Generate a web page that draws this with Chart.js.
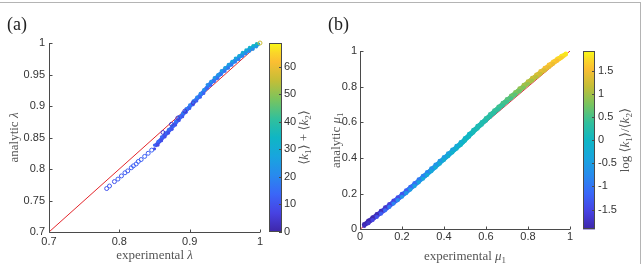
<!DOCTYPE html>
<html><head><meta charset="utf-8">
<script src="https://cdn.jsdelivr.net/npm/chart.js@4/dist/chart.umd.min.js"></script>
<style>
html,body{margin:0;padding:0;background:#fff;}
#wrap{position:relative;width:644px;height:264px;overflow:hidden;background:#fff;}
canvas{position:absolute;top:0;}
#frame{position:absolute;left:0;top:2px;width:641px;height:262px;border-top:1px solid #b4b4b4;border-right:1px solid #b4b4b4;box-sizing:border-box;pointer-events:none;}
</style></head><body>
<div id="wrap">
<canvas id="ca" width="322" height="264" style="left:0"></canvas>
<canvas id="cbb" width="322" height="264" style="left:322px"></canvas>
<div id="frame"></div>
</div>
<script>
// ---------- Panel (a) data ----------
const lamTicksX = [0.7, 0.8, 0.9, 1];
const lamTicksY = [0.7, 0.75, 0.8, 0.85, 0.9, 0.95, 1];
const kSumTicks = [0, 10, 20, 30, 40, 50, 60];
const kSumRange = [0, 68.6];
const lamRefLine = [0.7, 1];

const lamExpSparse = [0.782,0.786,0.793,0.798,0.803,0.808,0.812,0.817,0.820,0.824,0.827,0.831,0.836,0.841,0.846];
const lamAnaSparse = [0.769,0.773,0.780,0.784,0.789,0.794,0.797,0.802,0.805,0.808,0.812,0.815,0.820,0.825,0.830];
const kSumSparse   = [10,11,10,12,11,12,11,12,13,12,13,12,13,12,13];

const lamExpBand      = [0.850,0.855,0.860,0.865,0.870,0.875,0.880,0.885,0.890,0.895,0.900,0.905,0.910,0.915,0.920,0.925,0.930,0.935,0.940,0.945,0.950,0.955,0.960,0.965,0.970,0.975,0.980,0.985,0.990,0.995];
const lamAnaBandUpper = [0.838,0.844,0.851,0.857,0.863,0.869,0.876,0.883,0.889,0.896,0.902,0.908,0.914,0.920,0.926,0.934,0.939,0.945,0.950,0.956,0.961,0.966,0.971,0.976,0.980,0.985,0.989,0.993,0.996,0.999];
const lamAnaBandLower = [0.832,0.838,0.845,0.851,0.857,0.863,0.870,0.877,0.883,0.890,0.896,0.902,0.908,0.914,0.920,0.928,0.933,0.939,0.944,0.950,0.955,0.960,0.965,0.970,0.974,0.979,0.983,0.987,0.990,0.994];
const kSumBandUpper   = [13,14,14,15,15,16,16,17,18,18,19,20,20,21,22,22,23,24,24,25,26,26,27,28,29,30,31,32,34,36];
const kSumBandLower   = [8,8,9,9,9,10,10,10,11,11,12,12,12,13,13,14,14,15,15,16,16,17,17,18,18,19,20,21,22,24];
const lamExpBandMid   = [0.8525,0.8575,0.8625,0.8675,0.8725,0.8775,0.8825,0.8875,0.8925,0.8975,0.9025,0.9075,0.9125,0.9175,0.9225,0.9275,0.9325,0.9375,0.9425,0.9475,0.9525,0.9575,0.9625,0.9675,0.9725,0.9775,0.9825,0.9875,0.9925,0.9975];
const lamAnaBandMid   = [0.838,0.8445,0.851,0.857,0.863,0.8695,0.8765,0.883,0.8895,0.896,0.902,0.908,0.914,0.920,0.9265,0.9335,0.939,0.9445,0.950,0.9555,0.9605,0.9655,0.9705,0.975,0.9795,0.984,0.988,0.9915,0.995,0.998];
const kSumBandMid     = [10,11,11,12,12,13,13,14,14,15,15,16,16,17,17,18,18,19,20,20,21,21,22,23,24,24,25,26,28,30];

const lamExpDark = [0.862,0.874,0.883,0.893,0.905];
const lamAnaDark = [0.858,0.871,0.881,0.892,0.905];
const kSumDark   = [5,4,5,4,5];

const lamExpEnd = [1.0];
const lamAnaEnd = [1.0];
const kSumEnd   = [56];

// ---------- Panel (b) data ----------
const muTicksX = [0, 0.2, 0.4, 0.6, 0.8, 1];
const muTicksY = [0, 0.2, 0.4, 0.6, 0.8, 1];
const logRatioTicks = [-1.5, -1, -0.5, 0, 0.5, 1, 1.5];
const logRatioRange = [-1.93, 1.93];
const muRefLine = [0, 1];

const muExp = [0.02,0.04,0.06,0.08,0.10,0.12,0.14,0.16,0.18,0.20,0.22,0.24,0.26,0.28,0.30,0.32,0.34,0.36,0.38,0.40,0.42,0.44,0.46,0.48,0.50,0.52,0.54,0.56,0.58,0.60,0.62,0.64,0.66,0.68,0.70,0.72,0.74,0.76,0.78,0.80,0.82,0.84,0.86,0.88,0.90,0.92,0.94,0.96,0.98];
const muAnaUpper = [0.028,0.048,0.067,0.085,0.103,0.122,0.141,0.160,0.179,0.198,0.218,0.238,0.258,0.279,0.299,0.320,0.341,0.362,0.383,0.404,0.425,0.446,0.467,0.488,0.511,0.534,0.557,0.579,0.601,0.623,0.645,0.666,0.687,0.708,0.729,0.749,0.769,0.789,0.809,0.829,0.848,0.867,0.886,0.905,0.923,0.940,0.956,0.971,0.985];
const muAnaLower = [0.019,0.035,0.052,0.070,0.088,0.107,0.126,0.145,0.164,0.183,0.203,0.223,0.243,0.264,0.284,0.305,0.326,0.347,0.368,0.389,0.410,0.431,0.452,0.473,0.497,0.520,0.543,0.565,0.587,0.609,0.631,0.652,0.673,0.694,0.715,0.735,0.755,0.775,0.795,0.815,0.834,0.853,0.872,0.891,0.909,0.928,0.946,0.963,0.980];
const logRatioUpper = [-1.9,-1.9,-1.9,-1.85,-1.8,-1.7,-1.6,-1.55,-1.45,-1.35,-1.25,-1.15,-1.05,-0.95,-0.85,-0.8,-0.7,-0.65,-0.6,-0.5,-0.45,-0.4,-0.3,-0.2,-0.05,0,0.1,0.15,0.2,0.3,0.35,0.4,0.45,0.5,0.6,0.7,0.8,0.9,1.0,1.1,1.2,1.3,1.4,1.5,1.6,1.65,1.75,1.85,1.9];
const logRatioLower = [-1.8,-1.7,-1.55,-1.4,-1.25,-1.1,-0.95,-0.85,-0.75,-0.65,-0.6,-0.5,-0.45,-0.4,-0.35,-0.3,-0.3,-0.25,-0.2,-0.2,-0.15,-0.1,-0.1,0,0.05,0.05,0.1,0.15,0.2,0.2,0.25,0.3,0.35,0.4,0.45,0.5,0.6,0.7,0.8,0.9,1.0,1.1,1.2,1.3,1.4,1.45,1.55,1.65,1.8];
const muExpMid = [0.03,0.05,0.07,0.09,0.11,0.13,0.15,0.17,0.19,0.21,0.23,0.25,0.27,0.29,0.31,0.33,0.35,0.37,0.39,0.41,0.43,0.45,0.47,0.49,0.51,0.53,0.55,0.57,0.59,0.61,0.63,0.65,0.67,0.69,0.71,0.73,0.75,0.77,0.79,0.81,0.83,0.85,0.87,0.89,0.91,0.93,0.95,0.97];
const muAnaMid = [0.033,0.051,0.069,0.087,0.105,0.124,0.143,0.162,0.181,0.201,0.221,0.241,0.261,0.282,0.302,0.323,0.344,0.365,0.386,0.407,0.428,0.449,0.470,0.491,0.5155,0.5385,0.561,0.583,0.605,0.627,0.6485,0.6695,0.6905,0.7115,0.732,0.752,0.772,0.792,0.812,0.8315,0.8505,0.8695,0.8885,0.907,0.925,0.9425,0.959,0.975];
const logRatioMid = [-1.82,-1.75,-1.65,-1.55,-1.45,-1.35,-1.25,-1.15,-1.05,-0.95,-0.85,-0.78,-0.72,-0.65,-0.58,-0.52,-0.48,-0.42,-0.38,-0.32,-0.28,-0.22,-0.15,-0.05,0.02,0.08,0.12,0.18,0.22,0.28,0.32,0.38,0.42,0.48,0.55,0.65,0.75,0.85,0.95,1.05,1.15,1.25,1.35,1.45,1.52,1.6,1.7,1.8];

// ---------- colormap (parula-like) ----------
const parulaStops = [
  [0.00, 62, 38,168],[0.10, 71, 66,226],[0.20, 58,102,248],[0.30, 40,138,238],
  [0.40, 24,165,222],[0.50, 15,182,196],[0.60, 50,192,155],[0.70,120,196, 95],
  [0.80,195,190, 55],[0.90,251,190, 50],[0.95,250,215, 40],[1.00,249,250, 20]
];
function parula(t){
  t = Math.max(0, Math.min(1, t));
  for (let i = 1; i < parulaStops.length; i++){
    const a = parulaStops[i-1], b = parulaStops[i];
    if (t <= b[0]){
      const f = (t - a[0]) / (b[0] - a[0]);
      const c = [1,2,3].map(k => Math.round(a[k] + (b[k]-a[k])*f));
      return `rgb(${c[0]},${c[1]},${c[2]})`;
    }
  }
  return 'rgb(249,250,20)';
}
const colorsFor = (vals, range) => vals.map(v => parula((v - range[0]) / (range[1] - range[0])));
const pts = (xs, ys) => xs.map((x, i) => ({x, y: ys[i]}));

// ---------- text helpers ----------
const SERIF = '"Liberation Serif","DejaVu Serif",serif';
const SANS = '"Liberation Sans", Arial, sans-serif';
function drawRich(ctx, parts, x, y, size, rot, color){
  const fonts = parts.map(p => p[1]==='i' ? `italic ${size}px ${SERIF}` : p[1]==='s' ? `${Math.round(size*0.72)}px ${SERIF}` : `${size}px ${SERIF}`);
  let total = 0;
  const ws = parts.map((p, i) => { ctx.font = fonts[i]; const w = ctx.measureText(p[0]).width; total += w; return w; });
  ctx.save();
  ctx.translate(x, y); ctx.rotate(rot);
  ctx.fillStyle = color; ctx.textBaseline = 'middle'; ctx.textAlign = 'left';
  let cx = -total/2;
  parts.forEach((p, i) => { ctx.font = fonts[i]; ctx.fillText(p[0], cx, p[1]==='s' ? size*0.28 : 0); cx += ws[i]; });
  ctx.restore();
}

const AXIS_COLOR = '#4a4a4a';
const TEXT_COLOR = '#333';
const TITLE_COLOR = '#555';

const panelDeco = {
  id: 'panelDeco',
  afterDraw(chart, args, o){
    const ctx = chart.ctx, a = chart.chartArea;
    const xs = chart.scales.x, ys = chart.scales.y, cb = chart.scales.cb;
    ctx.save();
    // colorbar
    const x0 = Math.round(a.right + o.cbGap), w = o.cbWidth;
    const g = ctx.createLinearGradient(0, cb.bottom, 0, cb.top);
    parulaStops.forEach(s => g.addColorStop(s[0], `rgb(${s[1]},${s[2]},${s[3]})`));
    ctx.fillStyle = g;
    ctx.fillRect(x0, cb.top, w, cb.bottom - cb.top);
    ctx.strokeStyle = AXIS_COLOR; ctx.lineWidth = 1;
    ctx.strokeRect(x0 + 0.5, Math.round(cb.top) + 0.5, w - 1, Math.round(cb.bottom - cb.top) - 1);
    ctx.beginPath();
    cb.ticks.forEach(t => { const py = Math.round(cb.getPixelForValue(t.value)) + 0.5; ctx.moveTo(x0 + w, py); ctx.lineTo(x0 + w - 3, py); });
    ctx.stroke();
    // axes lines (left + bottom)
    ctx.beginPath();
    const L = Math.round(a.left) + 0.5, B = Math.round(a.bottom) + 0.5;
    ctx.moveTo(L, a.top); ctx.lineTo(L, B); ctx.lineTo(a.right, B);
    ctx.stroke();
    // inward tick marks
    ctx.beginPath();
    xs.ticks.forEach(t => { const px = Math.round(xs.getPixelForValue(t.value)) + 0.5; ctx.moveTo(px, B); ctx.lineTo(px, B - 3); });
    ys.ticks.forEach(t => { const py = Math.round(ys.getPixelForValue(t.value)) + 0.5; ctx.moveTo(L, py); ctx.lineTo(L + 3, py); });
    ctx.stroke();
    // texts
    ctx.fillStyle = '#222'; ctx.font = `18px ${SERIF}`; ctx.textBaseline = 'middle'; ctx.textAlign = 'left';
    ctx.fillText(o.label, o.labelX, o.labelY);
    const cxm = (a.left + a.right)/2, cym = (a.top + a.bottom)/2;
    drawRich(ctx, o.xTitle, cxm, o.xTitleY, 13, 0, TITLE_COLOR);
    drawRich(ctx, o.yTitle, o.yTitleX, cym, 13, -Math.PI/2, TITLE_COLOR);
    drawRich(ctx, o.cbTitle, o.cbTitleX, cym, 13, -Math.PI/2, TITLE_COLOR);
    ctx.restore();
  }
};

function fixedTicks(arr){ return s => { s.ticks = arr.map(v => ({value: v})); }; }
function tickOpts(pad){ return {padding: pad, autoSkip: false, maxRotation: 0, color: TEXT_COLOR, font: {family: SANS, size: 11}, callback: v => String(v)}; }
const noGrid = {display: false, drawTicks: false};
function filled(xs, ys, vals, range, r){ const c = colorsFor(vals, range); return { data: pts(xs, ys), backgroundColor: c, borderColor: c, pointRadius: r, borderWidth: 0, clip: false }; }
function ring(xs, ys, vals, range, r){ return { data: pts(xs, ys), backgroundColor: 'rgba(0,0,0,0)', borderColor: colorsFor(vals, range), pointRadius: r, borderWidth: 1, clip: false }; }
// dense core of the marker cloud: a thick stroke through the centre points, coloured point by point
function core(xs, ys, vals, range, w){ const c = colorsFor(vals, range); return { type: 'line', data: pts(xs, ys), showLine: true, borderWidth: w, pointRadius: 0, borderCapStyle: 'round', borderJoinStyle: 'round', tension: 0, fill: false, clip: false, borderColor: c[0], segment: { borderColor: ctx => c[ctx.p0DataIndex] } }; }
function refLine(vals, color){ return { type: 'line', data: pts(vals, vals), borderColor: color, borderWidth: 1, pointRadius: 0, fill: false }; }

// (Chart.js draws dataset 0 on top; the reference line is listed last so it sits under the markers)
// ---------- Panel (a) ----------
new Chart(document.getElementById('ca'), {
  type: 'scatter',
  data: { datasets: [
    ring(lamExpEnd, lamAnaEnd, kSumEnd, kSumRange, 2),
    ring(lamExpDark, lamAnaDark, kSumDark, kSumRange, 1.9),
    ring(lamExpSparse, lamAnaSparse, kSumSparse, kSumRange, 2.0),
    filled(lamExpBand, lamAnaBandUpper, kSumBandUpper, kSumRange, 1.6),
    filled(lamExpBand, lamAnaBandLower, kSumBandLower, kSumRange, 1.6),
    core(lamExpBandMid, lamAnaBandMid, kSumBandMid, kSumRange, 4),
    refLine(lamRefLine, '#e3262b')
  ]},
  options: {
    responsive: false, animation: false, devicePixelRatio: 1, events: [],
    layout: {padding: {top: 43, left: 0, right: 0, bottom: 0}},
    plugins: { legend: {display: false}, tooltip: {enabled: false},
      panelDeco: { label: '(a)', labelX: 7, labelY: 25, cbGap: 9, cbWidth: 13,
        xTitle: [['experimental ', 'n'], ['λ', 'i']], xTitleY: 256,
        yTitle: [['analytic ', 'n'], ['λ', 'i']], yTitleX: 15,
        cbTitle: [['⟨', 'n'], ['k', 'i'], ['1', 's'], ['⟩ + ⟨', 'n'], ['k', 'i'], ['2', 's'], ['⟩', 'n']], cbTitleX: 305 } },
    scales: {
      x: { type: 'linear', min: lamTicksX[0], max: lamTicksX[lamTicksX.length-1], afterBuildTicks: fixedTicks(lamTicksX), ticks: tickOpts(3), grid: noGrid, border: {display: false}, afterFit: s => { s.height = 32; } },
      y: { type: 'linear', min: lamTicksY[0], max: lamTicksY[lamTicksY.length-1], afterBuildTicks: fixedTicks(lamTicksY), ticks: tickOpts(4), grid: noGrid, border: {display: false}, afterFit: s => { s.width = 49; } },
      cb: { type: 'linear', axis: 'y', position: 'right', min: kSumRange[0], max: kSumRange[1], afterBuildTicks: fixedTicks(kSumTicks), ticks: tickOpts(24), grid: noGrid, border: {display: false}, afterFit: s => { s.width = 62; } }
    }
  },
  plugins: [panelDeco]
});

// ---------- Panel (b) ----------
new Chart(document.getElementById('cbb'), {
  type: 'scatter',
  data: { datasets: [
    filled(muExp, muAnaLower, logRatioLower, logRatioRange, 2.1),
    filled(muExp, muAnaUpper, logRatioUpper, logRatioRange, 2.3),
    core(muExpMid, muAnaMid, logRatioMid, logRatioRange, 5),
    refLine(muRefLine, '#e82840')
  ]},
  options: {
    responsive: false, animation: false, devicePixelRatio: 1, events: [],
    layout: {padding: {top: 51, left: 0, right: 0, bottom: 0}},
    plugins: { legend: {display: false}, tooltip: {enabled: false},
      panelDeco: { label: '(b)', labelX: 6, labelY: 25, cbGap: 13, cbWidth: 12,
        xTitle: [['experimental ', 'n'], ['μ', 'i'], ['1', 's']], xTitleY: 257,
        yTitle: [['analytic ', 'n'], ['μ', 'i'], ['1', 's']], yTitleX: 15,
        cbTitle: [['log ⟨', 'n'], ['k', 'i'], ['1', 's'], ['⟩/⟨', 'n'], ['k', 'i'], ['2', 's'], ['⟩', 'n']], cbTitleX: 304 } },
    scales: {
      x: { type: 'linear', min: muTicksX[0], max: muTicksX[muTicksX.length-1], afterBuildTicks: fixedTicks(muTicksX), ticks: tickOpts(1), grid: noGrid, border: {display: false}, afterFit: s => { s.height = 30; } },
      y: { type: 'linear', min: muTicksY[0], max: muTicksY[muTicksY.length-1], afterBuildTicks: fixedTicks(muTicksY), ticks: tickOpts(3), grid: noGrid, border: {display: false}, afterFit: s => { s.width = 38; } },
      cb: { type: 'linear', axis: 'y', position: 'right', min: logRatioRange[0], max: logRatioRange[1], afterBuildTicks: fixedTicks(logRatioTicks), ticks: tickOpts(28), grid: noGrid, border: {display: false}, afterFit: s => { s.width = 74; } }
    }
  },
  plugins: [panelDeco]
});
</script></body></html>
